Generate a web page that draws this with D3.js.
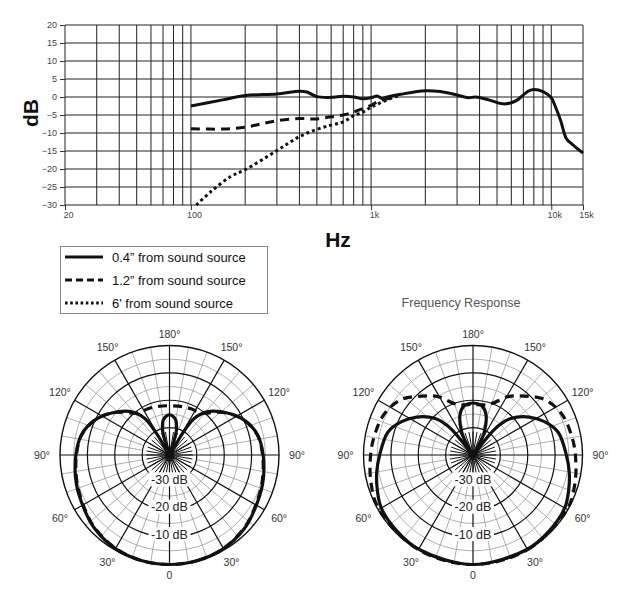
<!DOCTYPE html>
<html>
<head>
<meta charset="utf-8">
<script src="https://cdn.jsdelivr.net/npm/d3@7"></script>
<style>
	body { margin: 0; background: #ffffff; }
	svg text { font-family: "Liberation Sans", Arial, sans-serif; }
</style>
</head>
<body>
<svg id="chart" width="621" height="600"></svg>
<script>
// frequency response, [Hz, dB]
const near04 = [
	[100, -2.5], [150, -0.8], [200, 0.4], [300, 0.85], [400, 1.6], [440, 1.4],
	[500, 0.1], [600, -0.1], [700, 0.2], [800, 0], [900, -0.5],
	[1000, -0.2], [1080, 0.3], [1150, -0.4], [1230, 0], [1460, 0.75],
	[2000, 1.75], [2420, 1.5], [3000, 0.55], [3460, -0.2], [3800, 0],
	[4500, -0.8], [5400, -1.9], [6000, -1.6], [6500, -0.8], [7000, 0.6],
	[7500, 1.7], [8000, 2.1], [9000, 1.5], [10000, -0.2], [10500, -2.5],
	[11270, -6.5], [12120, -11.5], [13030, -13.1], [15000, -15.6]
];
const near12 = [
	[100, -8.8], [150, -8.9], [200, -8.4], [243, -7.5], [300, -6.6], [400, -6.0],
	[500, -6.1], [600, -5.5], [700, -5.0], [800, -4.2], [900, -3.2], [1000, -2.3],
	[1100, -1.2], [1250, -0.4], [1400, 0.3]
];
const far6 = [
	[107, -30], [129, -26.3], [166, -22.1], [200, -20.2], [300, -14.9], [400, -11.0],
	[500, -9.0], [600, -7.8], [700, -6.9], [800, -5.2], [900, -4.2], [1000, -2.8],
	[1150, -1.4], [1350, 0], [1450, 0.5]
];

const dbTicks = [20, 15, 10, 5, 0, -5, -10, -15, -20, -25, -30];
const hzTicks = [20, 100, 1000, 10000, 15000];
const hzLabels = ["20", "100", "1k", "10k", "15k"];

const legendLabels = [
	"0.4\u201d from sound source",
	"1.2\u201d  from sound source",
	"6' from sound source"
];

// polar patterns, [degrees, dB], one half (mirrored)
const leftSolid = [
	[0, 0], [15, -0.1], [30, -0.5], [45, -1.6], [55, -2.8], [73, -4.4], [90, -5.8],
	[103, -7], [115, -9.9], [126, -13.9], [139, -19.1], [146, -23.9], [149, -31],
	[154, -40], [162, -35], [165, -30], [170, -27], [175, -25.8], [180, -25.3]
];
const leftDashed = [
	[0, 0], [15, -0.1], [30, -0.6], [45, -1.8], [55, -3.0], [73, -4.7], [90, -6.0],
	[103, -7.1], [115, -9.9], [126, -13.9], [133, -17], [139, -19.8], [145, -21],
	[155, -21.4], [165, -21.7], [180, -22]
];
const rightSolid = [
	[0, 0], [30, -0.3], [45, -0.7], [60, -1.3], [70, -2.8], [80, -4.3], [90, -5.9],
	[105, -7.8], [115, -11.2], [124, -15.2], [134, -20.8], [139, -26], [141, -31],
	[146, -40], [150, -36], [154, -30.5], [162, -24.6], [169, -21.9], [175, -21.2],
	[180, -21]
];
const rightDashed = [
	[0, 0], [30, -0.1], [60, -0.3], [75, -1.4], [90, -2.6], [101, -3.3], [115, -4.3],
	[128, -7], [139, -11.5], [149, -15.1], [159, -19.7], [168, -21.3], [180, -21.5]
];

const ringLevels = [-30, -20, -10, 0];
const minorRings = [-25, -15, -5];
const angleLabels = [0, 30, 60, 90, 120, 150, 180];
const ringLabels = ["-30 dB", "-20 dB", "-10 dB"];

const svg = d3.select("#chart");

const styles = {
	solid: { width: 3, dash: null },
	dashed: { width: 3, dash: "9,6" },
	dotted: { width: 3, dash: "3,3" }
};

function drawResponse() {
	const x = d3.scaleLog().domain([20, 15000]).range([65, 583]);
	const y = d3.scaleLinear().domain([-30, 20]).range([205, 25]);

	const g = svg.append("g").attr("class", "response");

	//grid
	g.selectAll(".vgrid")
		.data(x.ticks().concat([15000]))
		.enter()
		.append("line")
		.attr("x1", d => x(d))
		.attr("x2", d => x(d))
		.attr("y1", y(20))
		.attr("y2", y(-30))
		.attr("stroke", "#222")
		.attr("stroke-width", 1);

	g.selectAll(".hgrid")
		.data(dbTicks)
		.enter()
		.append("line")
		.attr("x1", x(20))
		.attr("x2", x(15000))
		.attr("y1", d => y(d))
		.attr("y2", d => y(d))
		.attr("stroke", "#222")
		.attr("stroke-width", 1);

	const yAxis = g
		.append("g")
		.attr("transform", `translate(${x(20)},0)`)
		.call(d3.axisLeft(y).tickValues(dbTicks).tickSize(5).tickPadding(3));

	const xAxis = g
		.append("g")
		.attr("transform", `translate(0,${y(-30)})`)
		.call(
			d3
				.axisBottom(x)
				.tickValues(hzTicks)
				.tickSize(5)
				.tickPadding(2)
				.tickFormat((d, i) => hzLabels[i])
		);

	[yAxis, xAxis].forEach(a => {
		a.select(".domain").remove();
		a.selectAll(".tick line").attr("stroke", "#333");
		a.selectAll(".tick text")
			.attr("fill", "#444")
			.style("font-size", "9px")
			.style("font-family", "'Liberation Sans', Arial, sans-serif");
	});
	xAxis.selectAll(".tick text").attr("dx", 3);

	g.append("text")
		.attr("transform", "translate(38,113) rotate(-90)")
		.attr("text-anchor", "middle")
		.attr("font-size", "21px")
		.attr("font-weight", "bold")
		.attr("fill", "#111")
		.text("dB");

	g.append("text")
		.attr("x", 338)
		.attr("y", 247)
		.attr("text-anchor", "middle")
		.attr("font-size", "21px")
		.attr("font-weight", "bold")
		.attr("fill", "#111")
		.text("Hz");

	const line = d3
		.line()
		.x(d => x(d[0]))
		.y(d => y(d[1]))
		.curve(d3.curveCatmullRom.alpha(0.5));

	[
		[far6, styles.dotted],
		[near12, styles.dashed],
		[near04, styles.solid]
	].forEach(([data, s]) => {
		g.append("path")
			.attr("d", line(data))
			.attr("fill", "none")
			.attr("stroke", "#111")
			.attr("stroke-width", s.width)
			.attr("stroke-dasharray", s.dash);
	});
}

function drawLegend() {
	const g = svg.append("g").attr("class", "legend");

	g.append("rect")
		.attr("x", 60.5)
		.attr("y", 246.5)
		.attr("width", 207)
		.attr("height", 67)
		.attr("fill", "#fff")
		.attr("stroke", "#888");

	const rows = [
		{ dash: null },
		{ dash: "7,4" },
		{ dash: "2.6,2.6" }
	];

	const item = g
		.selectAll(".item")
		.data(legendLabels)
		.enter()
		.append("g")
		.attr("transform", (d, i) => `translate(0,${257 + i * 23})`);

	item.append("line")
		.attr("x1", 65)
		.attr("x2", 103)
		.attr("stroke", "#111")
		.attr("stroke-width", 3)
		.attr("stroke-dasharray", (d, i) => rows[i].dash);

	item.append("text")
		.attr("x", 112)
		.attr("y", 5)
		.attr("font-size", "13px")
		.attr("fill", "#111")
		.text(d => d);
}

function drawPolar(cx, cy, solid, dashed, title) {
	const R = 109.5;
	const rad = Math.PI / 180;
	const r = d3.scaleLinear().domain([-40, 0]).range([0, R]);

	const g = svg.append("g").attr("transform", `translate(${cx},${cy})`);

	if (title) {
		g.append("text")
			.attr("x", -12)
			.attr("y", -148)
			.attr("text-anchor", "middle")
			.attr("font-size", "12.5px")
			.attr("fill", "#555")
			.text(title);
	}

	// minor rings and spokes
	g.selectAll(".minor-ring")
		.data(minorRings)
		.enter()
		.append("circle")
		.attr("r", d => r(d))
		.attr("fill", "none")
		.attr("stroke", "#999")
		.attr("stroke-width", 0.8);

	const spokes = d3.range(0, 360, 10);

	g.selectAll(".minor-spoke")
		.data(spokes.filter(a => a % 30 !== 0))
		.enter()
		.append("line")
		.attr("x1", a => r(-30) * Math.sin(a * rad))
		.attr("y1", a => r(-30) * Math.cos(a * rad))
		.attr("x2", a => R * Math.sin(a * rad))
		.attr("y2", a => R * Math.cos(a * rad))
		.attr("stroke", "#999")
		.attr("stroke-width", 0.8);

	g.selectAll(".burst")
		.data(spokes)
		.enter()
		.append("line")
		.attr("x2", a => r(-30) * 0.85 * Math.sin(a * rad))
		.attr("y2", a => r(-30) * 0.85 * Math.cos(a * rad))
		.attr("stroke", "#111")
		.attr("stroke-width", 1);

	g.selectAll(".major-spoke")
		.data(spokes.filter(a => a % 30 === 0))
		.enter()
		.append("line")
		.attr("x2", a => R * Math.sin(a * rad))
		.attr("y2", a => R * Math.cos(a * rad))
		.attr("stroke", "#111")
		.attr("stroke-width", 1.2);

	g.selectAll(".ring")
		.data(ringLevels)
		.enter()
		.append("circle")
		.attr("r", d => r(d))
		.attr("fill", "none")
		.attr("stroke", "#111")
		.attr("stroke-width", d => (d === 0 ? 1.4 : 1.2));

	// dB labels on the 0 degree axis
	const lab = g
		.selectAll(".ring-label")
		.data(ringLabels)
		.enter()
		.append("g")
		.attr("transform", (d, i) => `translate(0,${r(ringLevels[i]) - 3})`);

	lab.append("rect")
		.attr("x", -21)
		.attr("y", -7)
		.attr("width", 42)
		.attr("height", 14)
		.attr("fill", "#fff");

	lab.append("text")
		.attr("text-anchor", "middle")
		.attr("dy", "0.36em")
		.attr("font-size", "12.5px")
		.attr("fill", "#222")
		.text(d => d);

	// angle labels, both sides
	const angles = [];
	angleLabels.forEach(a => {
		angles.push({ a, side: 1 });
		if (a !== 0 && a !== 180) angles.push({ a, side: -1 });
	});

	g.selectAll(".angle")
		.data(angles)
		.enter()
		.append("text")
		.attr("x", d => d.side * (R + 11 + 7 * Math.sin(d.a * rad)) * Math.sin(d.a * rad))
		.attr("y", d => (R + 11 + 7 * Math.sin(d.a * rad)) * Math.cos(d.a * rad))
		.attr("text-anchor", "middle")
		.attr("dy", "0.36em")
		.attr("font-size", "10.5px")
		.attr("fill", "#333")
		.text(d => (d.a === 0 ? "0" : `${d.a}\u00b0`));

	// patterns
	const toLoop = data => {
		const right = data.map(([t, db]) => [Math.PI - t * rad, r(db)]);
		const left = data
			.slice(1, -1)
			.reverse()
			.map(([t, db]) => [Math.PI + t * rad, r(db)]);
		return right.concat(left);
	};

	const radial = d3
		.lineRadial()
		.angle(d => d[0])
		.radius(d => d[1])
		.curve(d3.curveCatmullRomClosed.alpha(0.5));

	g.append("path")
		.attr("d", radial(toLoop(solid)))
		.attr("fill", "none")
		.attr("stroke", "#111")
		.attr("stroke-width", 3.2);

	g.append("path")
		.attr("d", radial(toLoop(dashed)))
		.attr("fill", "none")
		.attr("stroke", "#111")
		.attr("stroke-width", 3.2)
		.attr("stroke-dasharray", "9,6");
}

drawResponse();
drawLegend();
drawPolar(169.5, 455, leftSolid, leftDashed, null);
drawPolar(473, 455, rightSolid, rightDashed, "Frequency Response");
</script>
</body>
</html>
